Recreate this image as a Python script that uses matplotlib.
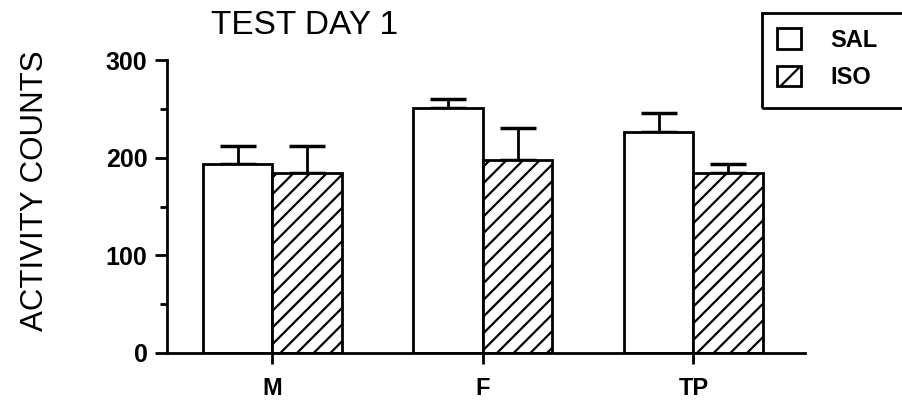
import matplotlib
matplotlib.use("Agg")
import matplotlib.pyplot as plt
from matplotlib.patches import Patch, Rectangle
from matplotlib.ticker import MultipleLocator
import numpy as np

categories = ["M", "F", "TP"]
sal_values = [194, 251, 226]
sal_err = [18, 9, 20]
iso_values = [184, 198, 184]
iso_err = [28, 32, 10]
yticks = [0, 100, 200, 300]

plt.rcParams['font.family'] = ['Liberation Sans', 'DejaVu Sans']
plt.rcParams['hatch.linewidth'] = 1.6

fig = plt.figure(figsize=(9.03, 4.03), dpi=100)
ax = fig.add_axes([167/903, 1-353/403, (805-167)/903, (353-60)/403])

x = np.arange(len(categories))
w = 0.33
ax.bar(x - w, sal_values, width=w, align='edge', facecolor='white',
       edgecolor='black', linewidth=2, zorder=2)
ax.bar(x, iso_values, width=w, align='edge', facecolor='white',
       edgecolor='black', linewidth=2, hatch='//', zorder=2)
ax.errorbar(x - w/2, sal_values, yerr=[np.zeros(3), sal_err], fmt='none',
            ecolor='black', elinewidth=2, capsize=13, capthick=2.5, zorder=1)
ax.errorbar(x + w/2, iso_values, yerr=[np.zeros(3), iso_err], fmt='none',
            ecolor='black', elinewidth=2, capsize=13, capthick=2.5, zorder=1)

ax.set_xlim(-0.5, 2.53)
ax.set_ylim(0, 300)
ax.set_yticks(yticks)
ax.set_yticklabels([str(t) for t in yticks], fontsize=18, fontweight='bold')
ax.yaxis.set_minor_locator(MultipleLocator(50))
ax.set_xticks(x)
ax.set_xticklabels(categories, fontsize=17, fontweight='bold')

for s in ['top', 'right']:
    ax.spines[s].set_visible(False)
for s in ['left', 'bottom']:
    ax.spines[s].set_linewidth(2)
ax.tick_params(axis='y', which='major', length=9, width=2, pad=5, direction='out')
ax.tick_params(axis='y', which='minor', length=5, width=2, direction='out')
ax.tick_params(axis='x', which='major', length=8, width=2, pad=9, direction='out')

fig.text(35/903, 1-191/403, "ACTIVITY COUNTS", fontsize=22.5, rotation=90,
         ha='center', va='center')

fig.text(305/903, 1-26/403, "TEST DAY 1", fontsize=24, ha='center', va='center')

handles = [Patch(facecolor='white', edgecolor='black', linewidth=2, label='SAL'),
           Patch(facecolor='white', edgecolor='black', linewidth=2, hatch='/', label='ISO')]
leg = ax.legend(handles=handles, loc='upper left',
                bbox_to_anchor=(762/903, 1-13/403), bbox_transform=fig.transFigure,
                borderaxespad=0, frameon=False,
                prop={'weight': 'bold', 'size': 17},
                handlelength=1.0, handleheight=0.95, handletextpad=1.25,
                labelspacing=0.6, borderpad=0.65)
fig.patches.append(Rectangle((762/903, 1-108/403), (915-762)/903, (108-13)/403,
                             transform=fig.transFigure, facecolor='none',
                             edgecolor='black', linewidth=2, clip_on=False))

fig.savefig("out.png", dpi=100)
